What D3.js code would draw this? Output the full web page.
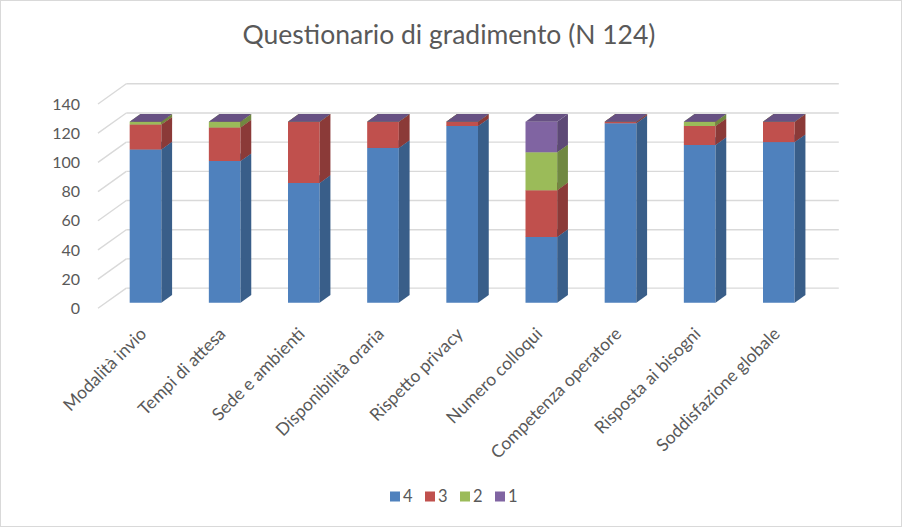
<!DOCTYPE html>
<html>
<head>
<meta charset="utf-8">
<script src="https://cdn.jsdelivr.net/npm/d3@7"></script>
<style>
  body { margin: 0; background: #fff; }
  text { font-family: Lato, "Open Sans", sans-serif; fill: #595959; }
</style>
</head>
<body>
<script>
// chart values
const categories = ["Modalità invio", "Tempi di attesa", "Sede e ambienti", "Disponibilità oraria",
  "Rispetto privacy", "Numero colloqui", "Competenza operatore", "Risposta ai bisogni", "Soddisfazione globale"];
const seriesNames = ["4", "3", "2", "1"];
const values4 = [105, 97, 82, 106, 121, 45, 123, 108, 110];
const values3 = [17, 23, 42, 18, 3, 32, 1, 13, 14];
const values2 = [2, 4, 0, 0, 0, 26, 0, 3, 0];
const values1 = [0, 0, 0, 0, 0, 21, 0, 0, 0];
const yTicks = [0, 20, 40, 60, 80, 100, 120, 140];
const colors = ["#4f81bd", "#c0504d", "#9bbb59", "#8064a2"];

const width = 902, height = 527;

const svg = d3.select("body").append("svg")
  .attr("width", width)
  .attr("height", height);

svg.append("rect")
  .attr("x", 0.5).attr("y", 0.5)
  .attr("width", width - 1).attr("height", height - 1)
  .attr("fill", "#fff")
  .attr("stroke", "#d9d9d9");

svg.append("text")
  .attr("x", 449).attr("y", 44)
  .attr("text-anchor", "middle")
  .style("font-size", "26.5px")
  .text("Questionario di gradimento (N 124)");

// front plane of the floor, plus the depth vector to the back wall
const x0 = 98, x1 = 810.5;
const DX = 28.3, DY = -20.2;
const t0 = 0.28, t1 = 0.66; // depth span of the bars

const x = d3.scaleBand().domain(categories).range([x0, x1]);
const y = d3.scaleLinear().domain([0, 140]).range([308.3, 104]);
const color = d3.scaleOrdinal().domain(seriesNames).range(colors);

function proj(px, v, t) {
  return [px + t * DX, y(v) + t * DY];
}

// walls
const grid = svg.append("g")
  .attr("stroke", "#d9d9d9")
  .attr("stroke-width", 1.4)
  .attr("fill", "none");

grid.selectAll(".back").data(yTicks).join("line")
  .attr("x1", d => proj(x0, d, 1)[0]).attr("y1", d => proj(x0, d, 1)[1])
  .attr("x2", d => proj(x1, d, 1)[0]).attr("y2", d => proj(x1, d, 1)[1]);

grid.selectAll(".side").data(yTicks).join("line")
  .attr("x1", d => proj(x0, d, 0)[0]).attr("y1", d => proj(x0, d, 0)[1])
  .attr("x2", d => proj(x0, d, 1)[0]).attr("y2", d => proj(x0, d, 1)[1]);

// y labels
svg.append("g").selectAll("text").data(yTicks).join("text")
  .attr("x", 80)
  .attr("y", d => y(d))
  .attr("dy", "0.35em")
  .attr("text-anchor", "end")
  .style("font-size", "16px")
  .text(d => d);

// stacked 3d bars
const table = categories.map((c, i) => ({
  cat: c, "4": values4[i], "3": values3[i], "2": values2[i], "1": values1[i]
}));
const stacked = d3.stack().keys(seriesNames)(table);

const bw = x.bandwidth();
const bars = svg.append("g");

categories.forEach((c, i) => {
  const L = x(c) + bw * 0.3;
  const R = L + bw * 0.4;
  stacked.forEach(layer => {
    const lo = layer[i][0], hi = layer[i][1];
    const col = d3.color(color(layer.key));
    const front = [proj(L, lo, t0), proj(R, lo, t0), proj(R, hi, t0), proj(L, hi, t0)];
    const side = [proj(R, lo, t0), proj(R, lo, t1), proj(R, hi, t1), proj(R, hi, t0)];
    const top = [proj(L, hi, t0), proj(R, hi, t0), proj(R, hi, t1), proj(L, hi, t1)];
    bars.append("polygon").attr("points", front.join(" ")).attr("fill", col.formatHex());
    bars.append("polygon").attr("points", side.join(" ")).attr("fill", col.darker(0.9).formatHex());
    bars.append("polygon").attr("points", top.join(" ")).attr("fill", col.darker(0.6).formatHex());
  });
});

// category labels, rotated
svg.append("g").selectAll("text").data(categories).join("text")
  .attr("transform", d => "translate(" + (x(d) + bw / 2 + 10) + ",335) rotate(-45)")
  .attr("text-anchor", "end")
  .style("font-size", "17.5px")
  .text(d => d);

// legend
const legend = svg.append("g").selectAll("g").data(seriesNames).join("g")
  .attr("transform", (d, i) => "translate(" + (390 + i * 35) + ",491.5)");
legend.append("rect")
  .attr("width", 10).attr("height", 10)
  .attr("fill", d => color(d));
legend.append("text")
  .attr("x", 13).attr("y", 5)
  .attr("dy", "0.35em")
  .style("font-size", "16.5px")
  .text(d => d);
</script>
</body>
</html>
